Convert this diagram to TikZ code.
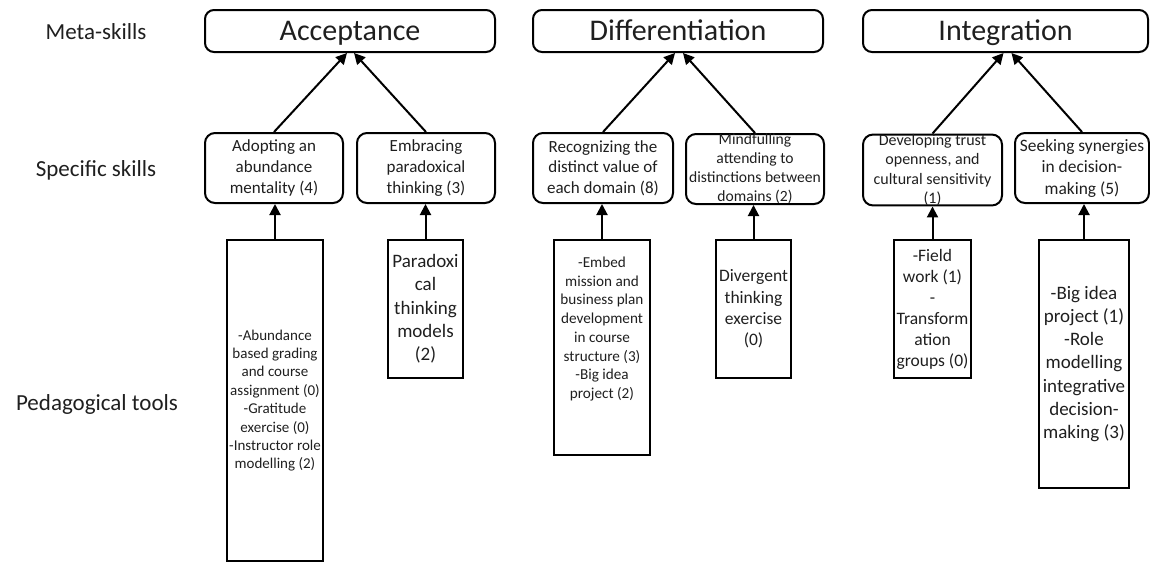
\documentclass[tikz,border=0pt]{standalone}
\usepackage{fontspec}
\setmainfont{Carlito}
\usetikzlibrary{arrows.meta}
\begin{document}
\begin{tikzpicture}[x=1pt,y=-1pt,
  txt/.style={text=black!88, inner sep=0pt, align=center},
  metabox/.style={draw, line width=2pt, rounded corners=9pt, minimum height=42pt, inner sep=0pt, text=black!88, font=\fontsize{30}{36}\selectfont, text height=19.5pt, text depth=0pt},
  skillbox/.style={draw, line width=2pt, rounded corners=10pt, minimum height=70pt, inner sep=0pt, text=black!88, align=center},
  toolbox/.style={draw, line width=2pt, inner sep=0pt, text=black!88, align=center},
  rowlabel/.style={text=black!88, inner sep=0pt, font=\fontsize{23}{28}\selectfont},
  arr/.style={line width=2pt, -{Triangle[length=11pt,width=11pt]}}
]
\useasboundingbox (0,0) rectangle (1150,563);

% row labels
\node[rowlabel] (l1) at (96,32) {Meta-skills};
\node[rowlabel] (l2) at (96,170) {Specific skills};
\node[rowlabel] (l3) at (97,404) {Pedagogical tools};

% meta-skills
\node[metabox, minimum width=290pt] (m1) at (350,31) {Acceptance};
\node[metabox, minimum width=290pt] (m2) at (678,31) {Differentiation};
\node[metabox, minimum width=285pt] (m3) at (1005.5,31) {Integration};

% specific skills
\node[skillbox, minimum width=138pt, font=\fontsize{17}{20.7}\selectfont] (s1) at (274,168)
  {Adopting an\\abundance\\mentality (4)};
\node[skillbox, minimum width=138pt, font=\fontsize{17}{20.7}\selectfont] (s2) at (426,168)
  {Embracing\\paradoxical\\thinking (3)};
\node[skillbox, minimum width=140pt, font=\fontsize{17}{20.7}\selectfont] (s3) at (603,168)
  {Recognizing the\\distinct value of\\each domain (8)};
\node[skillbox, minimum width=138pt, font=\fontsize{15.6}{19}\selectfont] (s4) at (755,169)
  {Mindfulling\\attending to\\distinctions between\\domains (2)};
\node[skillbox, minimum width=139pt, font=\fontsize{16}{19.2}\selectfont] (s5) at (932.5,170)
  {Developing trust\\openness, and\\cultural sensitivity\\(1)};
\node[skillbox, minimum width=134pt, font=\fontsize{17.4}{21.5}\selectfont] (s6) at (1082,168)
  {Seeking synergies\\in decision-\\making (5)};

% pedagogical tools
\node[toolbox, minimum width=96pt, minimum height=321pt, font=\fontsize{15}{18.4}\selectfont] (p1) at (275,400.5)
  {-Abundance\\based grading\\and course\\assignment (0)\\-Gratitude\\exercise (0)\\-Instructor role\\modelling (2)};
\node[toolbox, minimum width=75pt, minimum height=138pt, font=\fontsize{19}{23.3}\selectfont] (p2) at (425.5,309)
  {Paradoxi\\cal\\thinking\\models\\(2)};
\node[toolbox, minimum width=96pt, minimum height=215pt] (p3) at (602,347.5) {};
\node[txt, font=\fontsize{15.2}{18.7}\selectfont] (p3t) at (602,329)
  {-Embed\\mission and\\business plan\\development\\in course\\structure (3)\\-Big idea\\project (2)};
\node[toolbox, minimum width=75pt, minimum height=138pt, font=\fontsize{17.5}{21.3}\selectfont] (p4) at (753.5,309)
  {Divergent\\thinking\\exercise\\(0)};
\node[toolbox, minimum width=77pt, minimum height=138pt, font=\fontsize{17.5}{21}\selectfont] (p5) at (932.5,309)
  {-Field\\work (1)\\-\\Transform\\ation\\groups (0)};
\node[toolbox, minimum width=90pt, minimum height=248pt, font=\fontsize{19}{23.3}\selectfont] (p6) at (1084,364)
  {-Big idea\\project (1)\\-Role\\modelling\\integrative\\decision-\\making (3)};

% skills -> meta
\draw[arr] (s1.north) -- ([xshift=-3pt]m1.south);
\draw[arr] (s2.north) -- ([xshift=4pt]m1.south);
\draw[arr] (s3.north) -- ([xshift=-3pt]m2.south);
\draw[arr] (s4.north) -- ([xshift=5pt]m2.south);
\draw[arr] (s5.north) -- ([xshift=-2pt]m3.south);
\draw[arr] (s6.north) -- ([xshift=6pt]m3.south);

% tools -> skills
\draw[arr] (p1.north) -- (p1.north |- s1.south);
\draw[arr] (p2.north) -- (p2.north |- s2.south);
\draw[arr] (p3.north) -- (p3.north |- s3.south);
\draw[arr] (p4.north) -- (p4.north |- s4.south);
\draw[arr] (p5.north) -- (p5.north |- s5.south);
\draw[arr] (p6.north) -- (p6.north |- s6.south);
\end{tikzpicture}
\end{document}
